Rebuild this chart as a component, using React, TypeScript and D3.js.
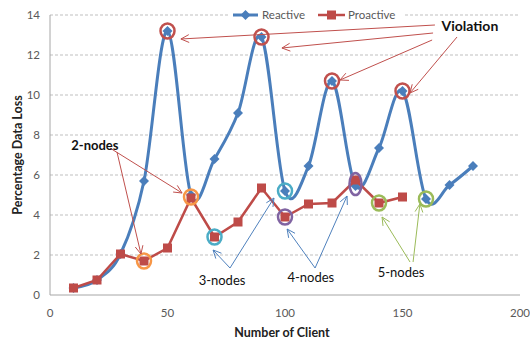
import React from "react";
import * as d3 from "d3";

const clients = [10, 20, 30, 40, 50, 60, 70, 80, 90, 100, 110, 120, 130, 140, 150, 160, 170, 180];
const reactive = [0.35, 0.75, 2.05, 5.7, 13.2, 5.0, 6.8, 9.1, 12.9, 5.2, 6.45, 10.7, 5.45, 7.35, 10.2, 4.8, 5.5, 6.45];
const proactiveX = [10, 20, 30, 40, 50, 60, 70, 80, 90, 100, 110, 120, 130, 140, 150];
const proactive = [0.35, 0.75, 2.05, 1.7, 2.35, 4.85, 2.9, 3.65, 5.35, 3.9, 4.55, 4.6, 5.75, 4.6, 4.9];
const xTicks = [0, 50, 100, 150, 200];
const yTicks = [0, 2, 4, 6, 8, 10, 12, 14];
const seriesNames = ["Reactive", "Proactive"];

// annotation rings: [x, y, color, tall]
const rings: [number, number, string, boolean][] = [
  [50, 13.2, "#C0504D", false],
  [90, 12.9, "#C0504D", false],
  [120, 10.7, "#C0504D", false],
  [150, 10.2, "#C0504D", false],
  [40, 1.7, "#F79646", false],
  [60, 4.9, "#F79646", false],
  [70, 2.9, "#4BACC6", false],
  [100, 5.2, "#4BACC6", false],
  [100, 3.9, "#8064A2", false],
  [130, 5.55, "#8064A2", true],
  [140, 4.6, "#9BBB59", false],
  [160, 4.8, "#9BBB59", false],
];

// annotation labels: [text, x, y, bold]
const labels: [string, number, number, boolean][] = [
  ["Violation", 178.7, 13.45, true],
  ["2-nodes", 19.1, 7.5, true],
  ["3-nodes", 73.2, 0.75, false],
  ["4-nodes", 111, 0.9, false],
  ["5-nodes", 149.4, 1.15, false],
];

// arrows: [x1, y1, x2, y2, color]
const arrows: [number, number, number, number, string][] = [
  [163.8, 13.5, 55.7, 12.8, "#C0504D"],
  [163.0, 13.1, 98.7, 12.35, "#C0504D"],
  [162.6, 12.75, 123.4, 10.75, "#C0504D"],
  [173.2, 12.9, 153.2, 10.1, "#C0504D"],
  [25.5, 7.35, 56.2, 5.1, "#C0504D"],
  [28.5, 7.15, 38.7, 2.05, "#C0504D"],
  [76.6, 1.35, 69.4, 2.25, "#4F81BD"],
  [76.6, 1.35, 95.3, 4.85, "#4F81BD"],
  [112.8, 1.35, 100.9, 3.3, "#4F81BD"],
  [112.8, 1.35, 126.4, 4.95, "#4F81BD"],
  [153.2, 1.65, 141.3, 3.9, "#9BBB59"],
  [154.5, 1.65, 157.4, 4.55, "#9BBB59"],
];

const BLUE = "#4A7EBB";
const RED = "#BE4B48";
const FONT = "Lato, 'Open Sans', sans-serif";

export default function App() {
  const W = 530, H = 341;
  const x = d3.scaleLinear().domain([0, 200]).range([50, 520]);
  const y = d3.scaleLinear().domain([0, 14]).range([295, 15]);

  const smooth = d3
    .line<number>()
    .x((_, i) => x(clients[i]))
    .y((d) => y(d))
    .curve(d3.curveCardinal.tension(0));
  const straight = d3
    .line<number>()
    .x((_, i) => x(proactiveX[i]))
    .y((d) => y(d));

  const diamond = (cx: number, cy: number, r: number) =>
    `M${cx},${cy - r}L${cx + r},${cy}L${cx},${cy + r}L${cx - r},${cy}Z`;

  const arrowHead = (x1: number, y1: number, x2: number, y2: number) => {
    const a = Math.atan2(y2 - y1, x2 - x1);
    const L = 9, s = 0.45;
    const p1 = [x2 - L * Math.cos(a - s), y2 - L * Math.sin(a - s)];
    const p2 = [x2 - L * Math.cos(a + s), y2 - L * Math.sin(a + s)];
    return `M${p1[0]},${p1[1]}L${x2},${y2}L${p2[0]},${p2[1]}`;
  };

  return (
    <svg width={W} height={H} style={{ position: "absolute", left: 0, top: 0, background: "#fff" }} fontFamily={FONT}>
      {/* gridlines */}
      {yTicks.filter((t) => t > 0).map((t) => (
        <line key={t} x1={50} x2={520} y1={y(t)} y2={y(t)} stroke="#BFBFBF" strokeDasharray="3,2" strokeWidth={1} />
      ))}
      {/* axes */}
      <line x1={50} x2={50} y1={15} y2={295} stroke="#A6A6A6" />
      <line x1={50} x2={520} y1={295} y2={295} stroke="#A6A6A6" />
      {yTicks.map((t) => (
        <text key={t} x={40} y={y(t)} dy="0.35em" textAnchor="end" fontSize={11.5} fill="#595959">{t}</text>
      ))}
      {xTicks.map((t) => (
        <text key={t} x={x(t)} y={313} dy="0.35em" textAnchor="middle" fontSize={11.5} fill="#595959">{t}</text>
      ))}
      <text x={282} y={333} dy="0.35em" textAnchor="middle" fontSize={12.5} fontWeight="bold" fill="#222">Number of Client</text>
      <text transform="translate(18,155) rotate(-90)" dy="0.35em" textAnchor="middle" fontSize={12.5} fontWeight="bold" fill="#222">Percentage Data Loss</text>

      {/* series */}
      <path d={smooth(reactive) || ""} fill="none" stroke={BLUE} strokeWidth={3} />
      {reactive.map((v, i) => (
        <path key={i} d={diamond(x(clients[i]), y(v), 5)} fill={BLUE} />
      ))}
      <path d={straight(proactive) || ""} fill="none" stroke={RED} strokeWidth={2.5} />
      {proactive.map((v, i) => (
        <rect key={i} x={x(proactiveX[i]) - 4.5} y={y(v) - 4.5} width={9} height={9} fill={RED} />
      ))}

      {/* rings */}
      {rings.map(([rx, ry, c, tall], i) => (
        <ellipse key={i} cx={x(rx)} cy={y(ry)} rx={tall ? 6 : 7} ry={tall ? 11 : 7.5} fill="none" stroke={c} strokeWidth={2.5} />
      ))}

      {/* arrows */}
      {arrows.map(([a1, b1, a2, b2, c], i) => {
        const X1 = x(a1), Y1 = y(b1), X2 = x(a2), Y2 = y(b2);
        return (
          <g key={i} stroke={c} strokeWidth={1} fill="none">
            <line x1={X1} y1={Y1} x2={X2} y2={Y2} />
            <path d={arrowHead(X1, Y1, X2, Y2)} />
          </g>
        );
      })}

      {/* labels */}
      {labels.map(([t, lx, ly, bold], i) => (
        <text key={i} x={x(lx)} y={y(ly)} dy="0.35em" textAnchor="middle" fontSize={i === 0 ? 14 : 13} fontWeight={bold ? "bold" : "normal"} fill="#111">{t}</text>
      ))}

      {/* legend */}
      <rect x={228} y={7} width={176} height={16} fill="#fff" />
      <line x1={233} x2={258} y1={15} y2={15} stroke={BLUE} strokeWidth={3} />
      <path d={diamond(245.5, 15, 5)} fill={BLUE} />
      <text x={262} y={15} dy="0.35em" fontSize={11.5} fill="#595959">{seriesNames[0]}</text>
      <line x1={318} x2={345} y1={15} y2={15} stroke={RED} strokeWidth={2.5} />
      <rect x={327} y={10.5} width={9} height={9} fill={RED} />
      <text x={348} y={15} dy="0.35em" fontSize={11.5} fill="#595959">{seriesNames[1]}</text>
    </svg>
  );
}
